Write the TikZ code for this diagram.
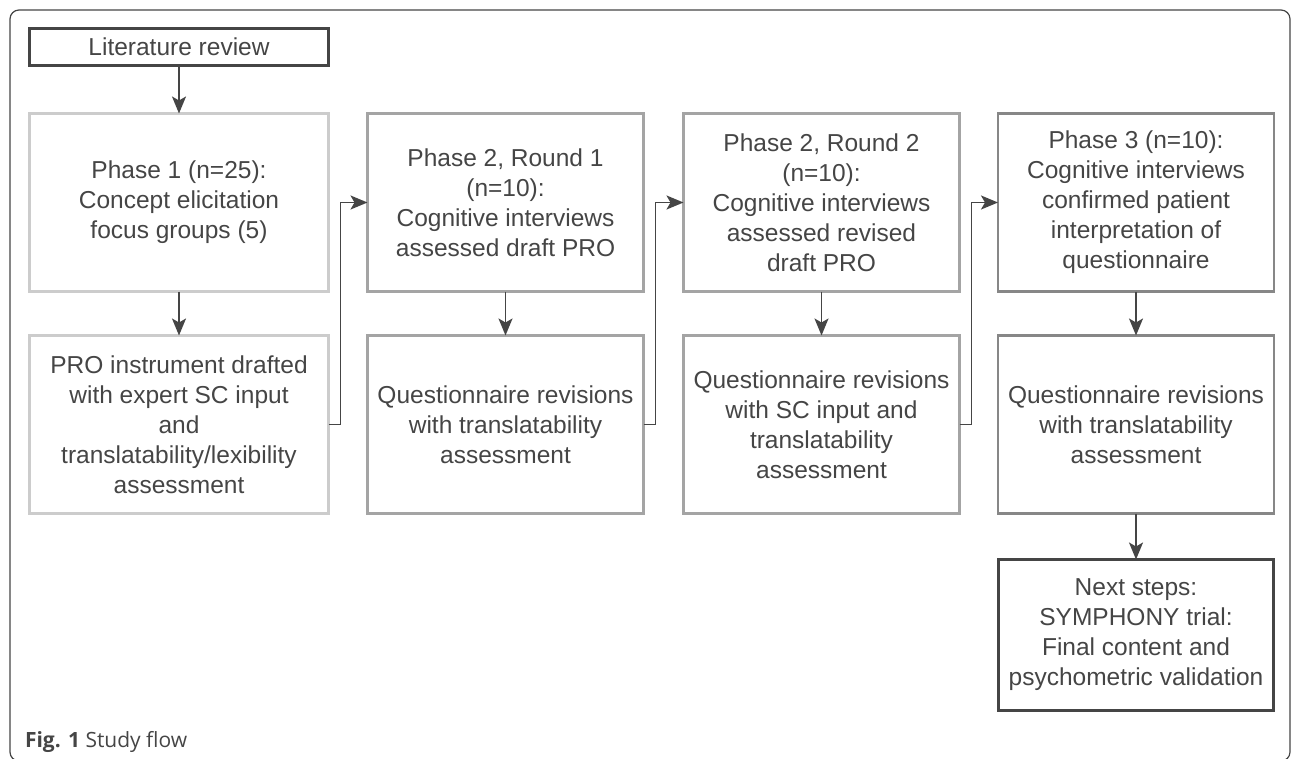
\documentclass[tikz,border=0pt]{standalone}
\usepackage{fontspec}
\setmainfont{Liberation Sans}
\newfontfamily\capfont{Open Sans}
\usepackage{tikz}
\usetikzlibrary{arrows.meta,positioning}
\usepackage{xcolor}
\definecolor{ink}{HTML}{454545}
\definecolor{edgepale}{HTML}{CCCCCC}
\definecolor{edgemid}{HTML}{A4A4A4}
\definecolor{edgedeep}{HTML}{878787}

\begin{document}
\begin{tikzpicture}[x=1pt,y=-1pt,
  every node/.style={font=\fontsize{24.5}{30}\selectfont,text=ink,align=center,
                     inner sep=0pt,outer sep=0pt},
  stage/.style={draw,line width=2.5pt,minimum width=276pt,minimum height=178pt},
  flow/.style={-{Stealth[length=17pt,width=14pt,inset=4pt]},draw=ink,line width=1.8pt}]
  \useasboundingbox (0,0) rectangle (1292,759);

  % outer frame
  \draw[ink,line width=1.2pt,rounded corners=9pt] (10,10) rectangle (1290,761);

  % Literature review
  \node[draw=ink,line width=3pt,minimum width=299pt,minimum height=37pt]
    (lit) at (179,47) {Literature review};

  % Phase 1
  \node[stage,draw=edgepale,minimum width=299pt]
    (p1) at (179,202.5) {Phase 1 (n=25):\\Concept elicitation\\focus groups (5)};
  \node[stage,draw=edgepale,minimum width=299pt]
    (pro) at (179,424.5) {PRO instrument drafted\\with expert SC input\\and\\translatability/lexibility\\assessment};

  % Phase 2, Round 1
  \node[stage,draw=edgemid]
    (r1) at (505.5,202.5) {Phase 2, Round 1\\(n=10):\\Cognitive interviews\\assessed draft PRO};
  \node[stage,draw=edgemid]
    (rev1) at (505.5,424.5) {Questionnaire revisions\\with translatability\\assessment};

  % Phase 2, Round 2
  \node[stage,draw=edgemid]
    (r2) at (821.5,202.5) {Phase 2, Round 2\\(n=10):\\Cognitive interviews\\assessed revised\\draft PRO};
  \node[stage,draw=edgemid]
    (rev2) at (821.5,424.5) {Questionnaire revisions\\with SC input and\\translatability\\assessment};

  % Phase 3
  \node[stage,draw=edgedeep]
    (p3) at (1136,202.5) {Phase 3 (n=10):\\Cognitive interviews\\confirmed patient\\interpretation of\\questionnaire};
  \node[stage,draw=edgedeep]
    (rev3) at (1136,424.5) {Questionnaire revisions\\with translatability\\assessment};

  % Next steps
  \node[draw=ink,line width=3pt,minimum width=275pt,minimum height=151pt]
    (next) at (1136,635) {Next steps:\\SYMPHONY trial:\\Final content and\\psychometric validation};

  % Arrows
  \draw[flow] (lit) -- (p1);
  \draw[flow] (p1) -- (pro);
  \draw[flow] (r1) -- (rev1);
  \draw[flow] (r2) -- (rev2);
  \draw[flow] (p3) -- (rev3);
  \draw[flow] (rev3) -- (next);
  \draw[flow] (pro.east) -- ++(12,0) |- (r1.west);
  \draw[flow] (rev1.east) -- ++(12,0) |- (r2.west);
  \draw[flow] (rev2.east) -- ++(12,0) |- (p3.west);

  % Caption
  \node[anchor=base west,font=\capfont\fontsize{21}{24}\selectfont,text=ink]
    (cap) at (25,747) {\textbf{Fig. 1} Study flow};
\end{tikzpicture}
\end{document}
